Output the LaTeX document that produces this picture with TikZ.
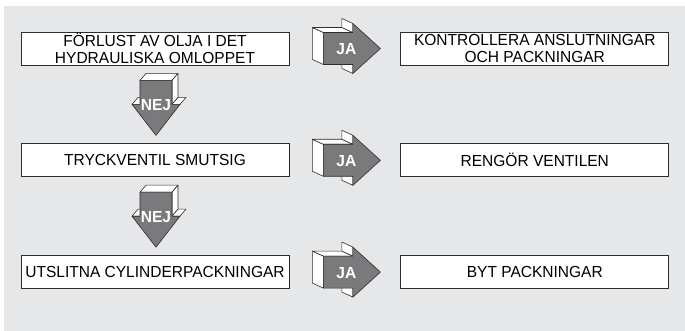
\documentclass[tikz,border=0pt]{standalone}
\usepackage{fontspec}
\setmainfont{Liberation Sans}[FakeStretch=0.97]
\usetikzlibrary{positioning}

\definecolor{panelgray}{RGB}{230,231,233}
\definecolor{arrowgray}{RGB}{122,122,124}
\definecolor{linegray}{RGB}{45,45,45}

\begin{document}
\begin{tikzpicture}[
            x=1pt, y=-1pt,
            node distance=78pt and 111pt,
            every node/.style={font=\fontsize{16}{16.7}\selectfont},
            box/.style={
                    draw=linegray,
                    line width=0.8pt,
                    minimum width=268pt,
                    minimum height=33pt,
                    inner sep=0pt,
                    align=center,
                    fill=white
                },
            face/.style={
                    draw=linegray,
                    line width=0.6pt,
                    line join=round,
                    fill=white
                },
            front/.style={
                    draw=linegray,
                    line width=0.6pt,
                    line join=round,
                    fill=arrowgray
                },
            arrowtext/.style={
                    text=white,
                    inner sep=0pt,
                    font=\fontsize{16}{16}\selectfont\bfseries
                },
            ja arrow/.pic={
                    % side faces first, front face on top
                    \filldraw[face] (0,-16) -- (0,16) -- (-11,11) -- (-11,-21) -- cycle;
                    \filldraw[face] (0,-16) -- (29.5,-16) -- (18.5,-21) -- (-11,-21) -- cycle;
                    \filldraw[face] (29.5,-25) -- (29.5,-16) -- (18.5,-21) -- (18.5,-30) -- cycle;
                    \filldraw[face] (29.5,16) -- (29.5,25) -- (18.5,20) -- (18.5,11) -- cycle;
                    \filldraw[front] (0,-16) -- (29.5,-16) -- (29.5,-25) -- (57,0)
                        -- (29.5,25) -- (29.5,16) -- (0,16) -- cycle;
                    \node[arrowtext] (-txt) at (23,1) {JA};
                },
            nej arrow/.pic={
                    \filldraw[face] (-16,0) -- (16,0) -- (22,-7) -- (-10,-7) -- cycle;
                    \filldraw[face] (16,0) -- (22,-7) -- (22,17) -- (16,24) -- cycle;
                    \filldraw[face] (-24,24) -- (-16,24) -- (-10,17) -- (-18,17) -- cycle;
                    \filldraw[face] (16,24) -- (24,24) -- (30,17) -- (22,17) -- cycle;
                    \filldraw[front] (-16,0) -- (16,0) -- (16,24) -- (24,24) -- (0,55)
                        -- (-24,24) -- (-16,24) -- cycle;
                    \node[arrowtext] (-txt) at (0,25) {NEJ};
                }
        ]

        \useasboundingbox (0,0) rectangle (685,331);
        \fill[panelgray] (4,6) rectangle (685,331);

        % left column: causes
        \node[box] (loss) at (155,48.5)
        {
            FÖRLUST AV OLJA I DET\\
            HYDRAULISKA OMLOPPET
        };

        \node[box, below=of loss] (valve)
        {TRYCKVENTIL SMUTSIG};

        \node[box, below=of valve] (seals)
        {UTSLITNA CYLINDERPACKNINGAR};

        % right column: remedies
        \node[box, right=of loss] (check)
        {
            KONTROLLERA ANSLUTNINGAR\\
            OCH PACKNINGAR
        };

        \node[box, right=of valve] (clean)
        {RENGÖR VENTILEN};

        \node[box, right=of seals] (replace)
        {BYT PACKNINGAR};

        \pic (ja1) at ([xshift=34pt]loss.east) {ja arrow};
        \pic (ja2) at ([xshift=34pt]valve.east) {ja arrow};
        \pic (ja3) at ([xshift=34pt]seals.east) {ja arrow};

        \pic (nej1) at ([xshift=1pt, yshift=-15pt]loss.south) {nej arrow};
        \pic (nej2) at ([xshift=1pt, yshift=-15pt]valve.south) {nej arrow};

    \end{tikzpicture}
\end{document}
